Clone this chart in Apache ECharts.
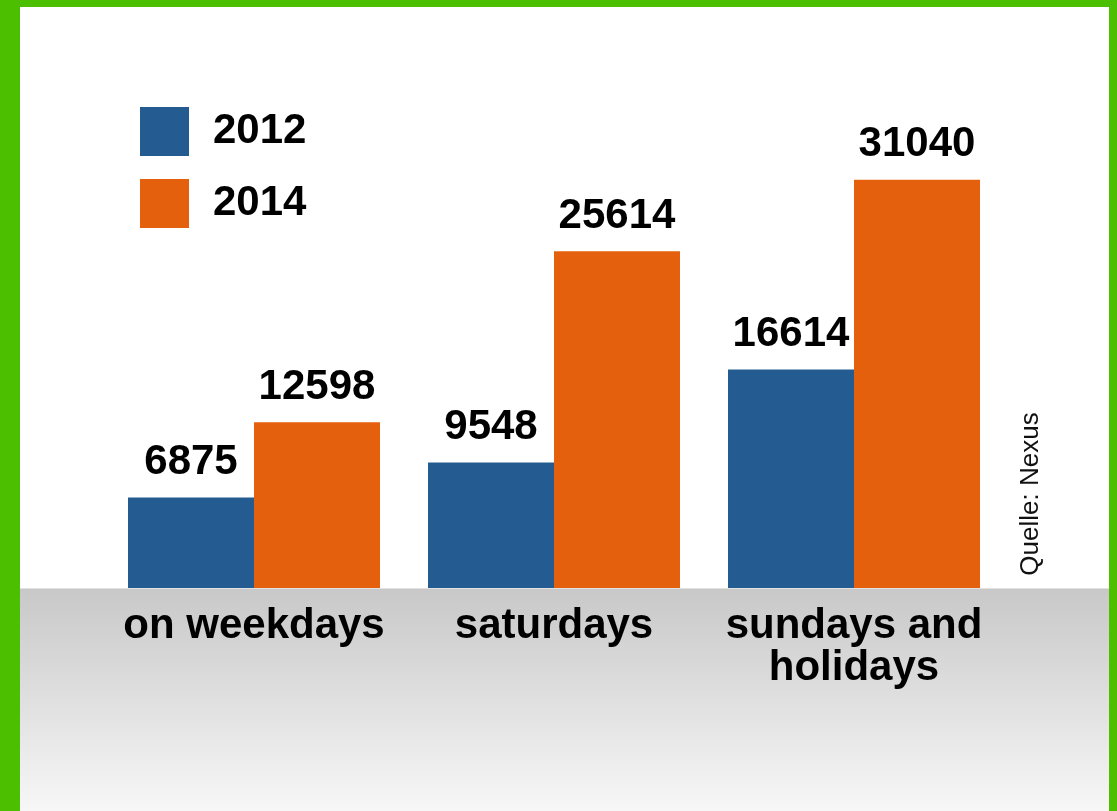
<!DOCTYPE html>
<html>
<head>
<meta charset="utf-8">
<script src="https://cdn.jsdelivr.net/npm/echarts@6/dist/echarts.min.js"></script>
<style>
html, body { margin: 0; padding: 0; background: #4cc000; }
#chart { width: 1117px; height: 811px; }
</style>
</head>
<body>
<div id="chart"></div>
<script>
// data
var categories = ['on weekdays', 'saturdays', 'sundays and\nholidays'];
var seriesNames = ['2012', '2014'];
var values2012 = [6875, 9548, 16614];
var values2014 = [12598, 25614, 31040];
var source = 'Quelle: Nexus';

var BLUE = '#245c92';
var ORANGE = '#e5600d';
var FONT = '"Liberation Sans", Arial, Helvetica, sans-serif';

var chart = echarts.init(document.getElementById('chart'));

var labelStyle = {
	show: true,
	position: 'top',
	distance: 14,
	color: '#000',
	fontFamily: FONT,
	fontWeight: 'bold',
	fontSize: 42,
	lineHeight: 42
};

chart.setOption({
	backgroundColor: '#4cc000',
	animation: false,
	graphic: [{
		type: 'rect',
		z: -10,
		shape: {x: 20, y: 7, width: 1089, height: 804},
		style: {fill: '#ffffff'}
	}, {
		type: 'rect',
		z: -9,
		shape: {x: 20, y: 588, width: 1089, height: 223},
		style: {
			fill: new echarts.graphic.LinearGradient(0, 0, 0, 1, [
				{offset: 0, color: '#c8c8c8'},
				{offset: 1, color: '#f7f7f7'}
			])
		}
	}, {
		type: 'rect',
		z: -8,
		shape: {x: 20, y: 588, width: 1089, height: 1},
		style: {fill: '#e2e2e2'}
	}, {
		type: 'text',
		x: 1031,
		y: 494,
		rotation: Math.PI / 2,
		style: {
			text: source,
			fill: '#111',
			font: '26px ' + FONT,
			textAlign: 'center',
			textVerticalAlign: 'middle'
		}
	}],
	legend: {
		data: seriesNames,
		orient: 'vertical',
		left: 140,
		top: 107,
		padding: 0,
		icon: 'rect',
		itemWidth: 49,
		itemHeight: 49,
		itemGap: 23,
		selectedMode: false,
		textStyle: {
			color: '#000',
			fontFamily: FONT,
			fontWeight: 'bold',
			fontSize: 42,
			padding: [0, 0, 0, 19]
		}
	},
	grid: {
		left: 104,
		right: 113,
		top: 62,
		bottom: 223
	},
	xAxis: {
		type: 'category',
		data: categories,
		axisLine: {show: false},
		axisTick: {show: false},
		axisLabel: {
			margin: 17,
			color: '#000',
			fontFamily: FONT,
			fontWeight: 'bold',
			fontSize: 42,
			lineHeight: 42,
			interval: 0
		}
	},
	yAxis: {
		type: 'value',
		min: 0,
		max: 40000,
		show: false,
		splitLine: {show: false}
	},
	series: [{
		name: seriesNames[0],
		type: 'bar',
		data: values2012,
		barWidth: 126,
		barGap: '0%',
		itemStyle: {color: BLUE},
		label: labelStyle
	}, {
		name: seriesNames[1],
		type: 'bar',
		data: values2014,
		barWidth: 126,
		barGap: '0%',
		itemStyle: {color: ORANGE},
		label: labelStyle
	}]
});

window.addEventListener('resize', function() {
	chart.resize();
});
</script>
</body>
</html>
